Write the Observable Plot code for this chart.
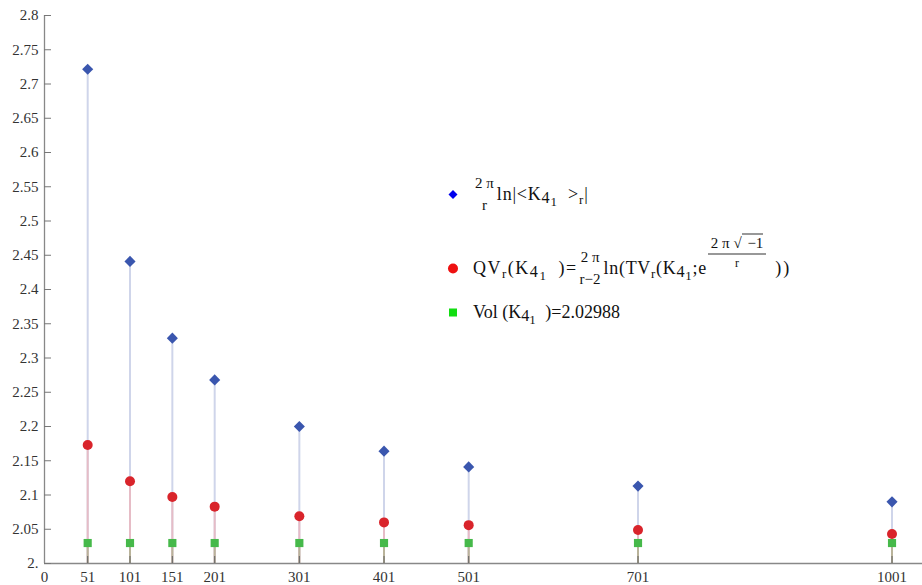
<!DOCTYPE html>
<html><head><meta charset="utf-8">
<script src="https://cdn.jsdelivr.net/npm/d3@7"></script>
<script src="https://cdn.jsdelivr.net/npm/@observablehq/plot@0.6"></script>
<style>
body{margin:0;background:#fff;}
#wrap{position:relative;width:922px;height:585px;font-family:"Liberation Serif",Tinos,"DejaVu Serif","Noto Serif",serif;color:#111;}
.row{position:absolute;left:447px;display:flex;align-items:center;font-size:18px;white-space:nowrap;transform:translateY(-50%);}
.mk{width:12px;height:12px;margin-right:14px;display:block;}
.frac{display:inline-flex;flex-direction:column;align-items:center;font-size:15px;line-height:17px;margin:0 3px 0 2px;}
.frac .num{padding-bottom:2px;}
.frac .den{padding-top:3px;}
.sup{display:inline-flex;flex-direction:column;align-items:center;font-size:15px;line-height:15px;position:relative;top:-15px;margin-left:1px;}
.sup .num{border-bottom:1px solid #333;padding:0 3px 3px 3px;}
.sup .den{font-size:12px;padding-top:1px;}
.s4{font-size:0.9em;position:relative;top:0.2em;}
.s1{font-size:0.72em;position:relative;top:0.5em;}
.sr{font-size:0.72em;position:relative;top:0.3em;}
.ov{border-top:1px solid #333;padding-left:2px;}
.sp{display:inline-block;width:5px;}
.ls1{letter-spacing:0.8px;}
.ls2{letter-spacing:1.5px;}
.ls3{letter-spacing:0.7px;}
</style></head>
<body>
<div id="wrap">
<div id="chart"></div>
<div class="row" id="leg1" style="top:194px">
 <svg class="mk" viewBox="-6 -6 12 12"><path d="M0,-4.5L4.5,0L0,4.5L-4.5,0Z" fill="#0000ee"/></svg>
 <span class="frac"><span class="num">2 π</span><span class="den">r</span></span><span class="ls1">ln|&lt;K<span class="s4">4</span><span class="s1">1</span><span class="sp"></span> &gt;<span class="sr">r</span>|</span>
</div>
<div class="row" id="leg2" style="top:268px">
 <svg class="mk" viewBox="-6 -6 12 12"><circle r="5" fill="#ee1111"/></svg>
 <span class="ls2">QV<span class="sr">r</span>(K<span class="s4">4</span><span class="s1">1</span><span class="sp"></span> )=</span><span class="frac"><span class="num">2 π</span><span class="den">r−2</span></span><span class="ls3">ln(TV<span class="sr">r</span>(K<span class="s4">4</span><span class="s1">1</span>;e</span><span class="sup"><span class="num">2 π √<span class="ov"> −1</span></span><span class="den">r</span></span><span style="margin-left:9px;letter-spacing:2px">))</span>
</div>
<div class="row" id="leg3" style="top:312px">
 <svg class="mk" viewBox="-6 -6 12 12"><rect x="-4" y="-4" width="8" height="8" fill="#11dd11"/></svg>
 <span>Vol (K<span class="s4">4</span><span class="s1">1</span><span class="sp"></span> )=2.02988</span>
</div>
</div>
<script>
const rValues = [51, 101, 151, 201, 301, 401, 501, 701, 1001];
const kauffmanValues = [2.7216, 2.441, 2.329, 2.268, 2.200, 2.164, 2.141, 2.113, 2.090];
const qvValues = [2.173, 2.120, 2.097, 2.083, 2.069, 2.060, 2.056, 2.049, 2.043];
const volValue = 2.02988;
const xTicks = [0, 51, 101, 151, 201, 301, 401, 501, 701, 1001];
const yTicks = [2, 2.05, 2.1, 2.15, 2.2, 2.25, 2.3, 2.35, 2.4, 2.45, 2.5, 2.55, 2.6, 2.65, 2.7, 2.75, 2.8];

const data = rValues.map((r, i) => ({r, k: kauffmanValues[i], q: qvValues[i], v: volValue}));
const W = 922, H = 585, mL = 44, mR = 0, mT = 15, mB = 22;
const serif = "'Liberation Serif', Tinos, 'DejaVu Serif', 'Noto Serif', serif";

const chart = Plot.plot({
  width: W, height: H,
  marginLeft: mL, marginRight: mR, marginTop: mT, marginBottom: mB,
  x: {domain: [0, 1037]},
  y: {domain: [2, 2.8]},
  style: {fontFamily: serif, fontSize: "15px", color: "#333", background: "white"},
  marks: [
    Plot.ruleX(data, {x: "r", y1: 2, y2: "k", stroke: "#cfd5ea", strokeWidth: 2}),
    Plot.ruleX(data, {x: "r", y1: 2, y2: "q", stroke: "#e6bcc6", strokeWidth: 2}),
    Plot.ruleX(data, {x: "r", y1: 2, y2: "v", stroke: "#b9b39a", strokeWidth: 2}),
    Plot.ruleY([2], {stroke: "#888", strokeWidth: 1.3}),
    Plot.ruleX([0], {stroke: "#888", strokeWidth: 1.3}),
    Plot.tickY(yTicks, {y: d => d, stroke: "#777", insetRight: W - mL - mR - 7}),
    Plot.tickX(xTicks.slice(1), {x: d => d, stroke: "#666", insetTop: H - mT - mB - 7}),
    Plot.axisY({ticks: yTicks, tickSize: 0, tickPadding: 6, label: null, fontFamily: serif, tickFormat: d => d === 2 ? "2." : String(d)}),
    Plot.axisX({ticks: xTicks, tickSize: 0, tickPadding: 8, label: null, fontFamily: serif, tickFormat: d => String(d)}),
    Plot.dot(data, {x: "r", y: "k", symbol: "diamond2", r: 5, fill: "#3a56ae", stroke: "none"}),
    Plot.dot(data, {x: "r", y: "q", symbol: "circle", r: 5, fill: "#d9242b", stroke: "none"}),
    Plot.dot(data, {x: "r", y: "v", symbol: "square", r: 4.6, fill: "#46b94a", stroke: "none"})
  ]
});
document.getElementById("chart").appendChild(chart);
</script>
</body></html>
